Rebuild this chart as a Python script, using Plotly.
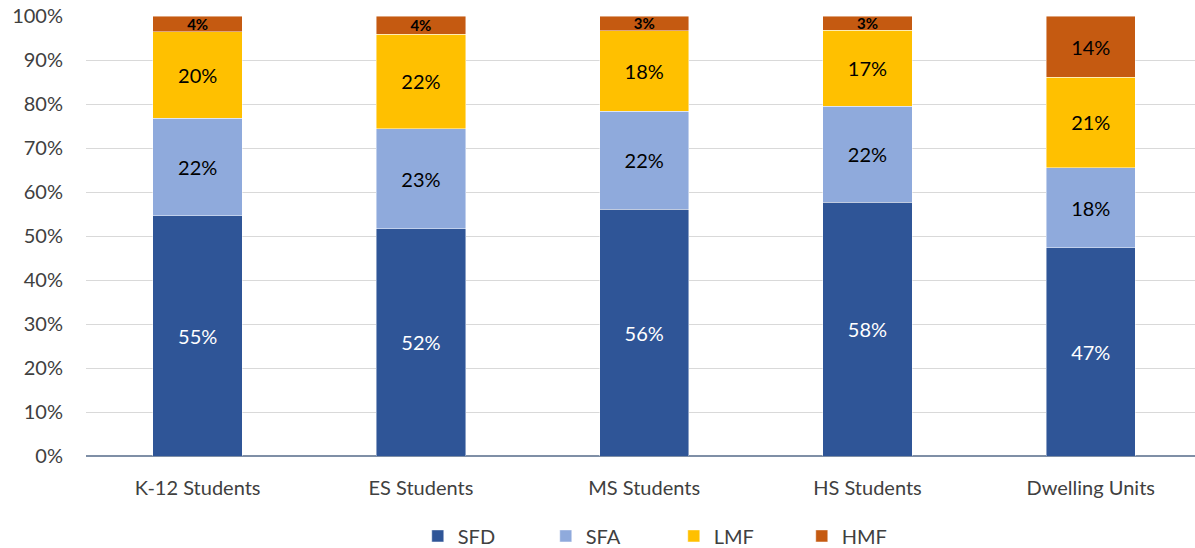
import plotly.graph_objects as go

categories = ["K-12 Students", "ES Students", "MS Students", "HS Students", "Dwelling Units"]
sfd = [54.6, 51.6, 56.1, 57.7, 47.3]
sfa = [22.2, 22.8, 22.3, 21.8, 18.2]
lmf = [19.6, 21.5, 18.2, 17.3, 20.6]
hmf = [3.6, 4.1, 3.4, 3.2, 13.9]
series_names = ["SFD", "SFA", "LMF", "HMF"]
colors = ["#2F5597", "#8FAADC", "#FFC000", "#C55A11"]
tick_vals = [0, 10, 20, 30, 40, 50, 60, 70, 80, 90, 100]
tick_text = [f"{v}%" for v in tick_vals]

FONT = "Lato"
fig = go.Figure()
all_series = [sfd, sfa, lmf, hmf]
for i, (name, vals, col) in enumerate(zip(series_names, all_series, colors)):
    txtcol = "white" if i == 0 else "black"
    sizes, texts = [], []
    for v in vals:
        lab = f"{int(v + 0.5)}%"
        if v < 8:
            sizes.append(15)
            texts.append(f"<b>{lab}</b>")
        else:
            sizes.append(20)
            texts.append(lab)
    fig.add_trace(go.Bar(
        name=name, x=categories, y=vals,
        marker=dict(color=col, line=dict(color="rgba(255,255,255,0.6)", width=0.75)),
        text=texts,
        textposition="inside", insidetextanchor="middle",
        textfont=dict(color=txtcol, size=sizes, family=FONT),
        constraintext="none",
        width=0.4,
        hoverinfo="skip",
    ))

fig.update_layout(
    barmode="stack",
    width=1195, height=548,
    margin=dict(l=86, r=0, t=16, b=92, autoexpand=False),
    plot_bgcolor="white", paper_bgcolor="white",
    font=dict(family=FONT, size=20, color="#404040"),
    showlegend=True,
    legend=dict(orientation="h", x=0.53, xanchor="center", yref="container", y=0.022, yanchor="middle",
                font=dict(size=20, color="#404040"), entrywidth=83, traceorder="normal"),
)
fig.update_xaxes(range=[-0.5, 4.467], showgrid=False, ticks="", showline=False, automargin=False,
                 tickfont=dict(size=20, color="#404040"), ticklabelstandoff=18)
fig.update_yaxes(range=[0, 100], tickvals=tick_vals, ticktext=tick_text, automargin=False,
                 showgrid=True, gridcolor="#D9D9D9", gridwidth=1.3,
                 zeroline=True, zerolinecolor="#7F8FA6", zerolinewidth=1.5,
                 ticks="", tickfont=dict(size=20, color="#404040"), ticklabelstandoff=22)
fig.write_html("out.html", config={"displayModeBar": False},
               post_script="document.body.style.margin='0px';document.body.style.overflow='hidden';")
